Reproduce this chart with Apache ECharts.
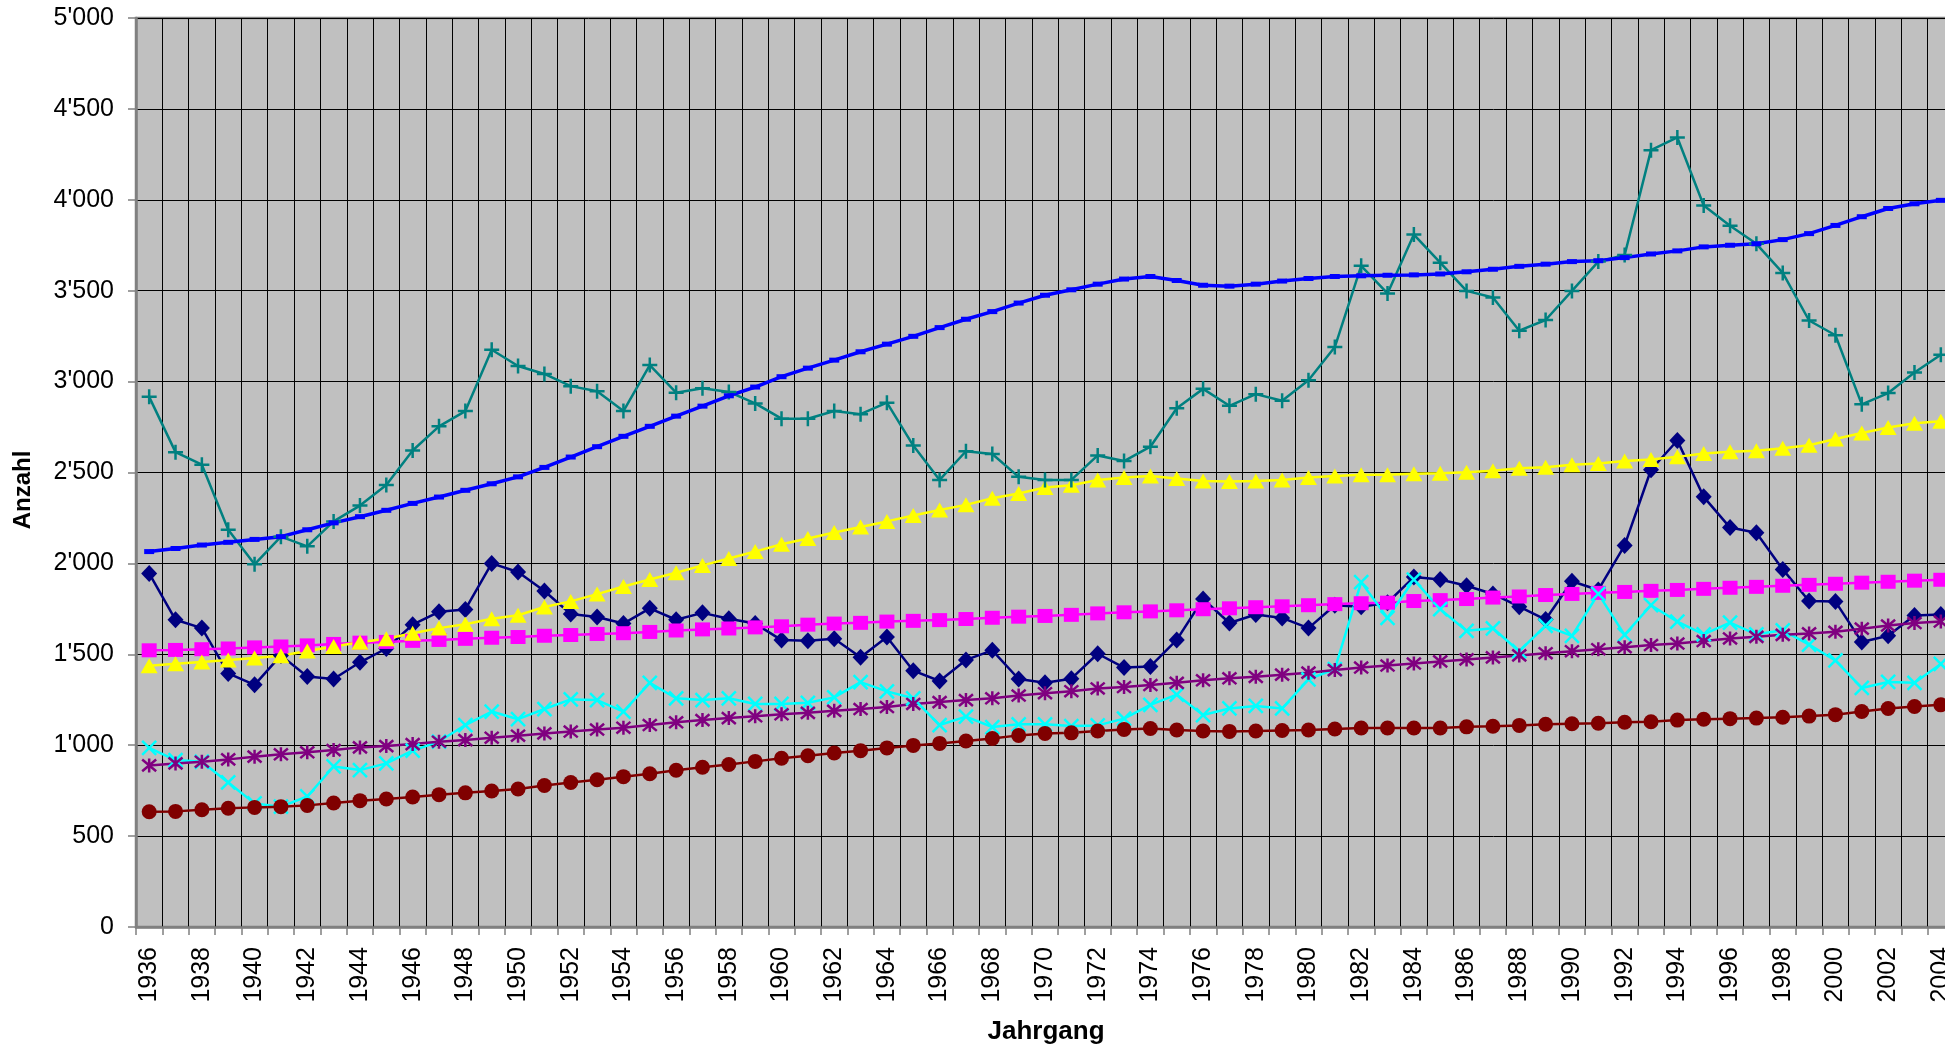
<!DOCTYPE html>
<html>
<head>
<meta charset="utf-8">
<script src="https://cdn.jsdelivr.net/npm/echarts@6/dist/echarts.min.js"></script>
<style>
  html, body { margin: 0; padding: 0; background: #ffffff; }
  #chart { width: 1945px; height: 1048px; }
</style>
</head>
<body>
<div id="chart"></div>
<script>
// Jahrgänge 1936 – 2004
const years = [
  '1936','1937','1938','1939','1940','1941','1942','1943','1944','1945','1946','1947',
  '1948','1949','1950','1951','1952','1953','1954','1955','1956','1957','1958','1959',
  '1960','1961','1962','1963','1964','1965','1966','1967','1968','1969','1970','1971',
  '1972','1973','1974','1975','1976','1977','1978','1979','1980','1981','1982',
  '1983','1984','1985','1986','1987','1988','1989','1990','1991','1992','1993',
  '1994','1995','1996','1997','1998','1999','2000','2001','2002','2003','2004'
];

// Reihe 1 (Rauten, dunkelblau)
const reihe1 = [
  1945,1690,1644,1395,1332,1494,1378,1364,1456,1532,1663,1734,
  1747,2000,1953,1848,1722,1705,1669,1753,1690,1728,1696,1669,
  1578,1574,1585,1484,1595,1410,1353,1469,1522,1364,1343,1366,
  1503,1427,1433,1579,1804,1672,1719,1700,1644,1770,1762,
  1784,1925,1911,1877,1832,1762,1691,1902,1854,2099,2515,
  2676,2366,2197,2169,1967,1793,1790,1568,1602,1714,1719
];

// Reihe 2 (Quadrate, magenta)
const reihe2 = [
  1522,1524,1528,1532,1538,1543,1549,1557,1564,1568,1574,1579,
  1585,1591,1595,1602,1606,1612,1616,1623,1631,1637,1642,1648,
  1654,1663,1669,1673,1680,1684,1688,1694,1701,1707,1711,1717,
  1725,1731,1736,1742,1748,1753,1759,1764,1770,1776,1781,
  1784,1793,1798,1804,1812,1818,1826,1832,1838,1843,1849,
  1854,1860,1866,1871,1877,1882,1888,1894,1899,1905,1910
];

// Reihe 3 (Dreiecke, gelb)
const reihe3 = [
  1437,1448,1458,1469,1479,1492,1518,1543,1566,1586,1616,1644,
  1665,1696,1715,1760,1791,1831,1873,1911,1949,1989,2027,2065,
  2105,2137,2170,2200,2231,2263,2294,2322,2358,2385,2417,2430,
  2459,2473,2481,2467,2453,2451,2453,2459,2473,2481,2487,
  2487,2493,2496,2501,2510,2524,2529,2543,2549,2563,2572,
  2586,2605,2614,2619,2633,2650,2684,2717,2748,2771,2782
];

// Reihe 4 (Kreuze x, cyan)
const reihe4 = [
  985,918,909,795,680,662,718,883,863,900,970,1020,
  1111,1185,1143,1199,1252,1248,1185,1343,1258,1248,1258,1227,
  1227,1233,1263,1347,1296,1258,1111,1157,1100,1115,1115,1105,
  1109,1146,1222,1278,1166,1202,1216,1202,1362,1419,1897,
  1700,1911,1748,1629,1643,1517,1657,1601,1832,1607,1770,
  1680,1610,1674,1610,1632,1553,1466,1315,1348,1343,1447
];

// Reihe 5 (Sterne, violett)
const reihe5 = [
  889,900,909,922,937,950,961,973,988,995,1006,1019,
  1028,1041,1052,1065,1075,1086,1096,1111,1126,1138,1149,1159,
  1170,1178,1189,1199,1210,1227,1237,1248,1258,1273,1286,1297,
  1312,1320,1331,1343,1357,1368,1376,1388,1399,1413,1427,
  1438,1449,1461,1472,1483,1494,1506,1517,1528,1539,1551,
  1559,1573,1587,1596,1607,1615,1624,1641,1658,1672,1680
];

// Reihe 6 (Kreise, dunkelrot)
const reihe6 = [
  634,636,645,653,658,662,669,682,695,704,715,728,
  738,748,759,778,795,810,827,843,862,879,894,911,
  928,942,957,970,985,999,1010,1023,1037,1054,1065,1068,
  1078,1087,1092,1084,1078,1076,1078,1081,1084,1089,1095,
  1095,1095,1095,1101,1104,1109,1115,1118,1121,1126,1129,
  1138,1143,1146,1149,1154,1160,1168,1185,1202,1213,1222
];

// Reihe 7 (Pluszeichen, petrol)
const reihe7 = [
  2916,2612,2543,2185,1995,2147,2094,2231,2318,2431,2621,2754,
  2838,3175,3086,3042,2975,2947,2838,3091,2939,2964,2943,2880,
  2796,2796,2838,2821,2884,2648,2459,2617,2602,2476,2459,2459,
  2594,2563,2642,2853,2960,2867,2931,2895,3007,3190,3637,
  3485,3809,3654,3499,3463,3280,3339,3499,3660,3696,4273,
  4343,3969,3857,3758,3598,3336,3255,2875,2937,3050,3148
];

// Reihe 8 (Striche, blau)
const reihe8 = [
  2065,2082,2101,2116,2132,2147,2185,2223,2257,2292,2330,2365,
  2402,2438,2476,2528,2585,2642,2699,2754,2810,2865,2922,2970,
  3027,3074,3118,3164,3206,3249,3297,3343,3385,3432,3475,3505,
  3536,3564,3578,3556,3530,3525,3536,3553,3567,3578,3582,
  3585,3587,3592,3604,3618,3634,3646,3660,3665,3682,3702,
  3719,3741,3750,3758,3781,3814,3859,3907,3952,3978,3997
];

const FONT = '"Liberation Sans", Arial, Helvetica, sans-serif';

// marker outlines drawn as strokes
const SYM_X = 'path://M0 0 L10 10 M10 0 L0 10';
const SYM_PLUS = 'path://M5 0 L5 10 M0 5 L10 5';
const SYM_STAR = 'path://M0 0 L10 10 M10 0 L0 10 M5 -1 L5 11';

function fmtThousands(v) {
  if (v < 1000) return String(v);
  const t = Math.floor(v / 1000);
  const r = String(v % 1000).padStart(3, '0');
  return t + "'" + r;
}

function lineSeries(name, data, color, symbol, size, opts) {
  const o = opts || {};
  return {
    name: name,
    type: 'line',
    data: data,
    symbol: symbol,
    symbolSize: size,
    showSymbol: true,
    showAllSymbol: true,
    smooth: false,
    lineStyle: { color: color, width: o.lineWidth || 2.5 },
    itemStyle: o.stroke
      ? { color: 'rgba(0,0,0,0)', borderColor: color, borderWidth: o.strokeWidth || 2.5 }
      : { color: color, borderWidth: 0 },
    emphasis: { disabled: true },
    z: 2
  };
}

const chart = echarts.init(document.getElementById('chart'), null, { renderer: 'canvas' });

// plot area runs on past the right edge of the canvas
const PLOT = { left: 136, top: 18, width: 1818, height: 909 };

chart.setOption({
  animation: false,
  backgroundColor: '#ffffff',
  textStyle: { fontFamily: FONT },
  grid: {
    left: PLOT.left, top: PLOT.top, width: PLOT.width, height: PLOT.height,
    outerBoundsMode: 'none',
    containLabel: false,
    show: true,
    backgroundColor: '#C0C0C0',
    borderColor: '#808080',
    borderWidth: 2.5
  },
  xAxis: {
    type: 'category',
    data: years,
    boundaryGap: true,
    axisLine: { show: true, lineStyle: { color: '#808080', width: 2.5 } },
    axisTick: { show: true, interval: 0, length: 8, lineStyle: { color: '#808080', width: 1.5 } },
    axisLabel: {
      interval: 1, rotate: 90, margin: 20, hideOverlap: false,
      fontSize: 25, fontFamily: FONT, color: '#000000'
    },
    splitLine: { show: true, interval: 0, lineStyle: { color: '#000000', width: 1 } }
  },
  yAxis: {
    type: 'value',
    min: 0, max: 5000, interval: 500,
    axisLine: { show: true, lineStyle: { color: '#808080', width: 2.5 } },
    axisTick: { show: true, length: 8, lineStyle: { color: '#808080', width: 1.5 } },
    axisLabel: {
      margin: 22, fontSize: 25, fontFamily: FONT, color: '#000000',
      formatter: fmtThousands
    },
    splitLine: { show: true, lineStyle: { color: '#000000', width: 1 } }
  },
  graphic: [
    {
      type: 'text',
      x: 23, y: 490,
      rotation: Math.PI / 2,
      style: {
        text: 'Anzahl',
        fontSize: 24, fontWeight: 'bold', fontFamily: FONT, fill: '#000000',
        align: 'center', verticalAlign: 'middle'
      }
    },
    {
      type: 'text',
      x: 1046, y: 1032,
      style: {
        text: 'Jahrgang',
        fontSize: 26, fontWeight: 'bold', fontFamily: FONT, fill: '#000000',
        align: 'center', verticalAlign: 'middle'
      }
    }
  ],
  series: [
    lineSeries('Reihe1', reihe1, '#000080', 'diamond', [16, 17]),
    lineSeries('Reihe2', reihe2, '#FF00FF', 'rect', [15, 14]),
    lineSeries('Reihe3', reihe3, '#FFFF00', 'triangle', [17, 15]),
    lineSeries('Reihe4', reihe4, '#00FFFF', SYM_X, [14, 14], { stroke: true }),
    lineSeries('Reihe5', reihe5, '#800080', SYM_STAR, [14, 14], { stroke: true }),
    lineSeries('Reihe6', reihe6, '#800000', 'circle', 15),
    lineSeries('Reihe7', reihe7, '#008080', SYM_PLUS, [15, 15], { stroke: true }),
    lineSeries('Reihe8', reihe8, '#0000FF', 'rect', [10, 5], { lineWidth: 3.5 })
  ]
});
</script>
</body>
</html>
